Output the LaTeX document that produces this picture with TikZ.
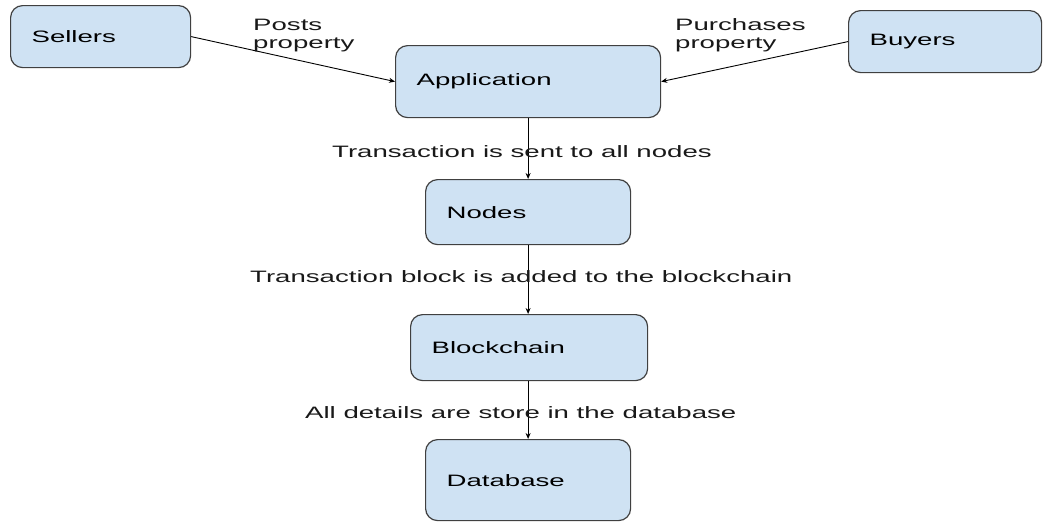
\documentclass[tikz,border=0pt]{standalone}
\usepackage{fontspec}
\setmainfont{Liberation Sans}
\usetikzlibrary{arrows.meta}
\definecolor{boxfill}{HTML}{CFE2F3}
\definecolor{boxline}{HTML}{404040}
\newcommand{\wtxt}[1]{\scalebox{1.673}[1]{#1}}
\begin{document}
\begin{tikzpicture}[x=1pt,y=-1pt,
  font=\fontsize{16.5}{18}\selectfont,
  box/.style={draw=boxline, fill=boxfill, line width=1.2pt, rounded corners=12pt,
    align=left, inner xsep=21pt, inner ysep=0pt, anchor=north west},
  arr/.style={-{Stealth[length=6pt,width=5pt]}, line width=0.9pt, black},
  lbl/.style={inner sep=0pt, anchor=base west, text=black!90}]
\useasboundingbox (0,0) rectangle (1044,522);
\fill[white] (0,0) rectangle (1044,522);

\node[box, text width=138pt, minimum height=62pt] (sellers) at (10,5) {\wtxt{Sellers}};
\node[box, text width=151pt, minimum height=62pt] (buyers) at (848,10) {\wtxt{Buyers}};
\node[box, text width=223pt, minimum height=72pt] (app) at (395,45) {\wtxt{Application}};
\node[box, text width=163pt, minimum height=65pt] (nodes) at (425,179) {\wtxt{Nodes}};
\node[box, text width=195pt, minimum height=66pt] (chain) at (410,314) {\wtxt{Blockchain}};
\node[box, text width=163pt, minimum height=81pt] (db) at (425,439) {\wtxt{Database}};

\draw[arr] (sellers.east) -- (app.west);
\draw[arr] (buyers.west) -- (app.east);
\draw[arr] (app.south) -- (nodes.north);
\draw[arr] (nodes.south) -- (nodes.south |- chain.north);
\draw[arr] (nodes.south |- chain.south) -- (db.north);

\node[lbl] (lposts) at (253,30) {\wtxt{\begin{tabular}[t]{@{}l@{}}Posts\\property\end{tabular}}};
\node[lbl] (lpurch) at (675,30) {\wtxt{\begin{tabular}[t]{@{}l@{}}Purchases\\property\end{tabular}}};
\node[lbl] (lsent) at (332,157) {\wtxt{Transaction is sent to all nodes}};
\node[lbl] (ladded) at (250,282) {\wtxt{Transaction block is added to the blockchain}};
\node[lbl] (lstore) at (305,418) {\wtxt{All details are store in the database}};
\end{tikzpicture}
\end{document}
